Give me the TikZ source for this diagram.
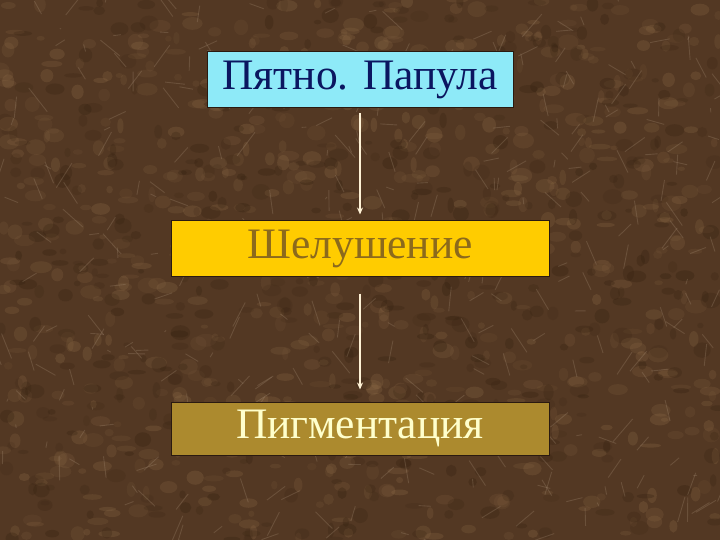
\documentclass[tikz,border=0pt]{standalone}
\usepackage{fontspec}
\setmainfont{Liberation Serif}
\usetikzlibrary{arrows.meta}
\definecolor{bgbase}{HTML}{533823}
\definecolor{bglight}{HTML}{8E6C48}
\definecolor{bgdark}{HTML}{33200F}
\definecolor{cyanbox}{HTML}{8EEAF8}
\definecolor{navytext}{HTML}{0B1660}
\definecolor{goldbox}{HTML}{FFCC00}
\definecolor{goldtext}{HTML}{8C6A1C}
\definecolor{olivebox}{HTML}{AC8A2E}
\definecolor{creamtext}{HTML}{FFFFCC}
\definecolor{arrowcol}{HTML}{FFF2D6}
\definecolor{boxborder}{HTML}{2A1A10}
\tikzset{
  stagebox/.style={rectangle, draw=boxborder, line width=1pt, inner sep=0pt,
    font=\fontsize{43.5}{48}\selectfont},
  flowarrow/.style={draw=arrowcol, line width=1.8pt, -{Stealth[length=7pt,width=6pt]}}
}
\begin{document}
\begin{tikzpicture}[x=1pt,y=-1pt]
\useasboundingbox (0,0) rectangle (720,540);
\fill[bgbase] (0,0) rectangle (720,540);
\pgfmathsetseed{7}
\begin{scope}
\clip (0,0) rectangle (720,540);
\foreach \i in {1,...,700}{
  \pgfmathsetmacro{\px}{720*rnd}
  \pgfmathsetmacro{\py}{540*rnd}
  \pgfmathsetmacro{\rx}{3+8*rnd}
  \pgfmathsetmacro{\ry}{2+6*rnd}
  \pgfmathsetmacro{\op}{0.10+0.18*rnd}
  \fill[bglight, opacity=\op] (\px,\py) ellipse [x radius=\rx, y radius=\ry];
}
\foreach \i in {1,...,500}{
  \pgfmathsetmacro{\px}{720*rnd}
  \pgfmathsetmacro{\py}{540*rnd}
  \pgfmathsetmacro{\rx}{3+7*rnd}
  \pgfmathsetmacro{\ry}{2+6*rnd}
  \pgfmathsetmacro{\op}{0.12+0.2*rnd}
  \fill[bgdark, opacity=\op] (\px,\py) ellipse [x radius=\rx, y radius=\ry];
}
\foreach \i in {1,...,350}{
  \pgfmathsetmacro{\px}{720*rnd}
  \pgfmathsetmacro{\py}{540*rnd}
  \pgfmathsetmacro{\dx}{20*rand}
  \pgfmathsetmacro{\dy}{25*rand}
  \draw[bglight!70!white, opacity=0.25, line width=0.9pt] (\px,\py) -- ++(\dx,\dy);
}
\end{scope}
\node[stagebox, fill=cyanbox, text=navytext, minimum width=306pt, minimum height=56pt] (spot) at (360,80) {Пятно. Папула};
\node[stagebox, fill=goldbox, text=goldtext, minimum width=378pt, minimum height=55pt] (peel) at (360,248.5) {Шелушение};
\node[stagebox, fill=olivebox, text=creamtext, minimum width=378pt, minimum height=53pt] (pigm) at (360,428.5) {Пигментация};
\draw[flowarrow, shorten <=5pt, shorten >=6pt] (spot.south) -- (peel.north);
\draw[flowarrow, shorten <=17pt, shorten >=12pt] (peel.south) -- (pigm.north);
\end{tikzpicture}
\end{document}
